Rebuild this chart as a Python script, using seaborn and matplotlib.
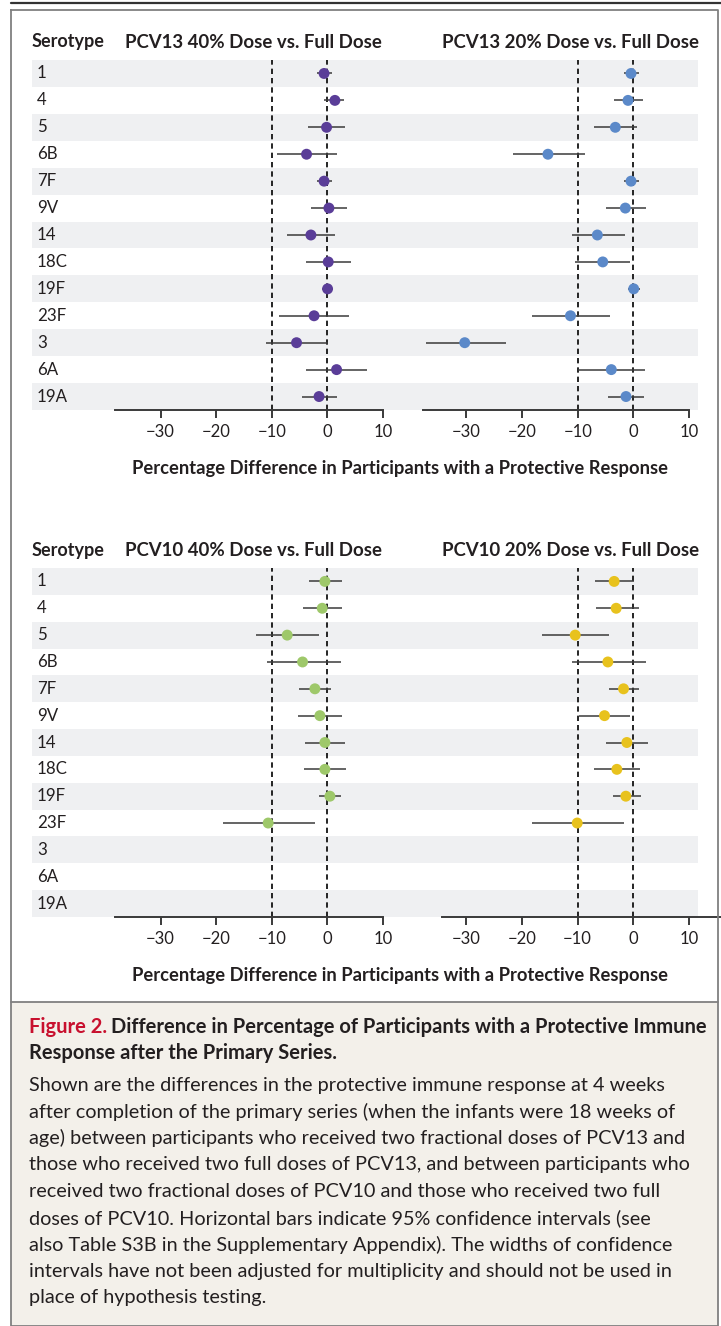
import numpy as np
import pandas as pd
import matplotlib
matplotlib.use("Agg")
import matplotlib.pyplot as plt
import seaborn as sns
from matplotlib.lines import Line2D
from matplotlib.patches import Rectangle

# ---------------- data ----------------
serotypes = ["1", "4", "5", "6B", "7F", "9V", "14", "18C", "19F", "23F", "3", "6A", "19A"]
tick_values = [-30, -20, -10, 0, 10]
tick_labels = ["\u221230", "\u221220", "\u221210", "0", "10"]

pcv13_40_est = [-0.6, 1.35, -0.15, -3.75, -0.6, 0.27, -2.97, 0.15, 0.03, -2.4, -5.55, 1.65, -1.5]
pcv13_40_lo = [-1.9, -0.6, -3.45, -9.0, -1.9, -2.97, -7.2, -3.9, -1.05, -8.7, -11.1, -3.9, -4.65]
pcv13_40_hi = [0.9, 3.0, 3.15, 1.65, 0.9, 3.45, 1.35, 4.2, 1.05, 3.9, 0.15, 7.1, 1.77]

pcv13_20_est = [-0.42, -0.96, -3.24, -15.35, -0.42, -1.44, -6.47, -5.5, 0.06, -11.3, -30.3, -3.96, -1.32]
pcv13_20_lo = [-1.74, -3.54, -7.14, -21.6, -1.74, -4.92, -11.0, -10.55, -0.96, -18.2, -37.2, -10.0, -4.62]
pcv13_20_hi = [0.96, 1.74, 0.66, -8.75, 0.96, 2.28, -1.56, -0.54, 1.26, -4.14, -22.8, 2.16, 1.86]

pcv10_40_est = [-0.45, -0.93, -7.23, -4.47, -2.25, -1.35, -0.45, -0.45, 0.45, -10.65, np.nan, np.nan, np.nan]
pcv10_40_lo = [-3.27, -4.35, -12.86, -10.9, -5.13, -5.37, -4.05, -4.23, -1.53, -18.74, np.nan, np.nan, np.nan]
pcv10_40_hi = [2.55, 2.55, -1.47, 2.37, 0.63, 2.55, 3.15, 3.33, 2.37, -2.25, np.nan, np.nan, np.nan]

pcv10_20_est = [-3.42, -3.06, -10.43, -4.56, -1.74, -5.16, -1.14, -2.94, -1.32, -10.07, np.nan, np.nan, np.nan]
pcv10_20_lo = [-6.96, -6.78, -16.4, -11.0, -4.44, -9.7, -4.86, -7.14, -3.72, -18.2, np.nan, np.nan, np.nan]
pcv10_20_hi = [0.06, 0.96, -4.32, 2.28, 0.96, -0.54, 2.58, 1.26, 1.38, -1.74, np.nan, np.nan, np.nan]

titles = ["PCV13 40% Dose vs. Full Dose", "PCV13 20% Dose vs. Full Dose",
          "PCV10 40% Dose vs. Full Dose", "PCV10 20% Dose vs. Full Dose"]
xlabel = "Percentage Difference in Participants with a Protective Response"
row_header = "Serotype"
fig_label = "Figure 2."
fig_title_1 = "Difference in Percentage of Participants with a Protective Immune"
fig_title_2 = "Response after the Primary Series."
caption_lines = [
    "Shown are the differences in the protective immune response at 4 weeks",
    "after completion of the primary series (when the infants were 18 weeks of",
    "age) between participants who received two fractional doses of PCV13 and",
    "those who received two full doses of PCV13, and between participants who",
    "received two fractional doses of PCV10 and those who received two full",
    "doses of PCV10. Horizontal bars indicate 95% confidence intervals (see",
    "also Table S3B in the Supplementary Appendix). The widths of confidence",
    "intervals have not been adjusted for multiplicity and should not be used in",
    "place of hypothesis testing.",
]

# ---------------- style ----------------
sns.set_theme(style="white")
plt.rcParams["font.family"] = ["Lato", "DejaVu Sans"]
TXT = "#231f20"
LINE = "#3a3a3a"
BAND = "#eff0f2"
COLORS = ["#5a3d98", "#5b89c9", "#9ec86a", "#e8c21d"]

W, H = 721, 1326
fig = plt.figure(figsize=(W / 100, H / 100), dpi=100)
fig.patch.set_facecolor("white")


def rect(x0, y0, x1, y1):
    return [x0 / W, 1 - y1 / H, (x1 - x0) / W, (y1 - y0) / H]


def fx(x):
    return x / W


def fy(y):
    return 1 - y / H


# frame / caption background
fig.add_artist(Rectangle((fx(11), 0), (718 - 11) / W, (H - 1002) / H,
                         facecolor="#f3f0ea", edgecolor="none", zorder=0))
fig.add_artist(Line2D([fx(11), fx(721)], [fy(3), fy(3)], color="#333333", lw=1.6))
fig.add_artist(Line2D([fx(11), fx(718), fx(718), fx(11), fx(11)],
                      [fy(10), fy(10), fy(1326), fy(1326), fy(10)],
                      color="#808080", lw=1.3))
fig.add_artist(Line2D([fx(11), fx(718)], [fy(1002), fy(1002)], color="#808080", lw=1.3))


def make_df(est, lo, hi):
    return pd.DataFrame({"serotype": serotypes, "pos": np.arange(len(serotypes)),
                         "est": est, "lo": lo, "hi": hi})


def band_axes(y0, y1):
    ax = fig.add_axes(rect(32, y0, 698, y1))
    ax.set_xlim(0, 1)
    ax.set_ylim(len(serotypes) - 0.5, -0.5)
    for i in range(0, len(serotypes), 2):
        ax.axhspan(i - 0.5, i + 0.5, color=BAND, lw=0)
    for i, s in enumerate(serotypes):
        ax.text(5 / 666, i, s, va="center", ha="left", fontsize=12.2, color=TXT)
    ax.axis("off")
    return ax


def panel(x0, x1, y0, y1, xlim, df, color):
    ax = fig.add_axes(rect(x0, y0, x1, y1))
    ax.set_facecolor("none")
    for v in (-10, 0):
        ax.axvline(v, color="black", lw=1.2, ls=(0, (3.2, 2.4)), zorder=1)
    d = df.dropna()
    ax.hlines(d["pos"], d["lo"], d["hi"], color=LINE, lw=1.1, zorder=3)
    sns.scatterplot(data=d, x="est", y="pos", color=color, s=62, edgecolor="none",
                    ax=ax, zorder=4, legend=False)
    ax.set_xlim(*xlim)
    ax.set_ylim(len(serotypes) - 0.5, -0.5)
    for sp in ("left", "top", "right"):
        ax.spines[sp].set_visible(False)
    ax.spines["bottom"].set_color(LINE)
    ax.spines["bottom"].set_linewidth(1.4)
    ax.set_xticks(tick_values)
    ax.set_xticklabels(tick_labels)
    ax.tick_params(axis="x", direction="out", length=6, width=1.4, color=LINE,
                   labelsize=12, labelcolor=TXT, pad=4, bottom=True)
    ax.set_yticks([])
    ax.set_xlabel("")
    ax.set_ylabel("")
    ax.grid(False)
    return ax


HEAD = 13.4
XL = 13.2

# ---------- top block ----------
band_axes(60, 410)
panel(115, 383, 60, 410, (-38.2, 10.0), make_df(pcv13_40_est, pcv13_40_lo, pcv13_40_hi), COLORS[0])
panel(423, 689, 60, 410, (-37.8, 10.0), make_df(pcv13_20_est, pcv13_20_lo, pcv13_20_hi), COLORS[1])
fig.text(fx(32), fy(42), row_header, ha="left", va="center", fontsize=13, weight="bold", color=TXT)
fig.text(fx(125), fy(42), titles[0], ha="left", va="center", fontsize=HEAD, weight="bold", color=TXT)
fig.text(fx(699), fy(42), titles[1], ha="right", va="center", fontsize=HEAD, weight="bold", color=TXT)
fig.text(fx(400), fy(468), xlabel, ha="center", va="center", fontsize=XL, weight="bold", color=TXT)

# ---------- bottom block ----------
band_axes(568, 917)
panel(115, 383, 568, 917, (-38.2, 10.0), make_df(pcv10_40_est, pcv10_40_lo, pcv10_40_hi), COLORS[2])
panel(442, 721, 568, 917, (-34.4, 15.8), make_df(pcv10_20_est, pcv10_20_lo, pcv10_20_hi), COLORS[3])
fig.text(fx(32), fy(550), row_header, ha="left", va="center", fontsize=13, weight="bold", color=TXT)
fig.text(fx(125), fy(550), titles[2], ha="left", va="center", fontsize=HEAD, weight="bold", color=TXT)
fig.text(fx(699), fy(550), titles[3], ha="right", va="center", fontsize=HEAD, weight="bold", color=TXT)
fig.text(fx(400), fy(975), xlabel, ha="center", va="center", fontsize=XL, weight="bold", color=TXT)

# ---------- caption ----------
renderer = fig.canvas.get_renderer()
CT = 14.5
t_lab = fig.text(fx(29), fy(1027), fig_label, ha="left", va="center", fontsize=CT,
                 weight="bold", color="#c8102e")
bb = t_lab.get_window_extent(renderer=renderer)
space = 4
fig.text((bb.x1 + space) / W, fy(1027), fig_title_1, ha="left", va="center", fontsize=CT,
         weight="bold", color=TXT)
fig.text(fx(29), fy(1053), fig_title_2, ha="left", va="center", fontsize=CT,
         weight="bold", color=TXT)
for k, line in enumerate(caption_lines):
    fig.text(fx(29), fy(1085 + 26.6 * k), line, ha="left", va="center", fontsize=14.3,
             color=TXT)

fig.savefig("out.png", dpi=100, facecolor="white")
